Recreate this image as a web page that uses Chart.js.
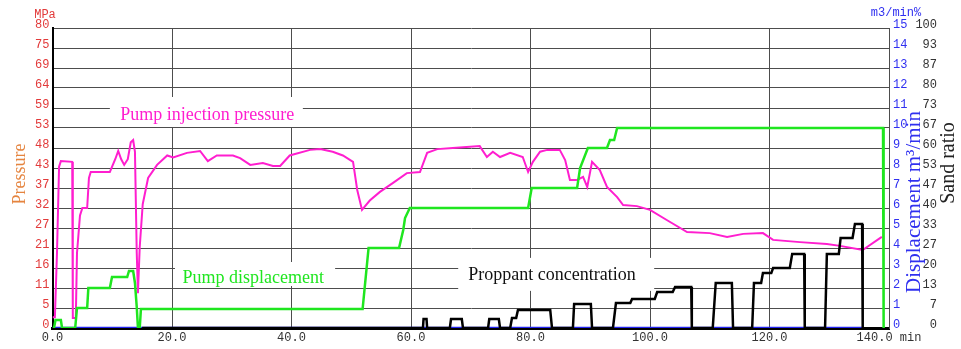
<!DOCTYPE html>
<html>
<head>
<meta charset="utf-8">
<script src="https://cdn.jsdelivr.net/npm/chart.js@4.4.1/dist/chart.umd.min.js"></script>
<style>
  html, body { margin: 0; padding: 0; background: #ffffff; }
  #wrap { width: 961px; height: 349px; }
</style>
</head>
<body>
<div id="wrap"><canvas id="c" width="961" height="349"></canvas></div>
<script>
// Fracturing treatment record: time in minutes.

// Pump injection pressure, MPa
const pressureTime = [0, 0.4, 0.75, 1.1, 1.4, 3.3, 3.4, 3.9, 4.1, 4.6,
  5.0, 5.8, 6.1, 6.4, 9.6, 10.5, 11.0, 11.5, 12.0, 12.6,
  13.1, 13.5, 13.8, 14.1, 14.3, 14.6, 15.1, 16.0, 17.5, 19.2,
  20.2, 22.5, 24.7, 26.0, 27.5, 30.2, 31.4, 33.1, 35.2, 36.9,
  38.1, 39.7, 43.1, 44.8, 46.9, 48.6, 50.3, 51.0, 51.8, 53.1,
  54.8, 57.0, 59.3, 61.5, 62.7, 64.4, 67.0, 71.5, 72.7, 73.7,
  74.9, 76.6, 78.7, 79.6, 80.4, 81.6, 82.8, 84.9, 85.8, 86.6,
  87.8, 88.8, 89.5, 90.3, 91.6, 92.8, 94.5, 95.5, 97.8, 100.0,
  102.8, 106.2, 110.0, 112.9, 115.6, 118.9, 120.6, 125.1, 129.6, 131.8,
  135.6, 138.8];
const pressureMPa = [2.9, 2.9, 20, 43, 44.5, 44.3, 2.7, 2.7, 20, 30,
  32, 32, 40, 41.6, 41.6, 45, 47.2, 45, 43.5, 45,
  49.5, 50.1, 47, 20, 9.3, 21.6, 33, 40, 43.5, 46,
  45.5, 46.7, 47.2, 44.5, 46, 46, 45.3, 43.5, 44, 43.2,
  43.2, 46, 47.5, 47.7, 47, 46, 44.3, 36.8, 31.5, 34,
  36.3, 38.7, 41.3, 41.6, 46.7, 47.7, 48, 48.5, 45.6, 47,
  45.6, 46.7, 45.6, 41.6, 44.3, 47, 47.5, 47.5, 44.8, 39.5,
  39.5, 40.3, 37.6, 44.3, 42.1, 37.6, 34.9, 32.8, 32.5, 31.5,
  28.8, 25.6, 25.3, 24.3, 25.1, 25.3, 23.5, 22.9, 22.4, 21.9,
  20.8, 24.3];

// Pump displacement, m3/min
const rateTime = [0, 0.25, 0.5, 1.4, 1.6, 3.8, 4.1, 5.8, 6.0, 9.6,
  9.96, 12.5, 12.8, 13.5, 13.8, 14.1, 14.3, 14.6, 14.8, 51.9,
  52.9, 58.0, 58.7, 59.0, 59.8, 79.6, 80.2, 87.8, 88.3, 89.6,
  92.8, 93.3, 94.0, 94.5, 139.0, 139.1];
const rateM3 = [0, 0, 0.4, 0.4, 0, 0, 1.0, 1.0, 2.0, 2.0,
  2.55, 2.55, 2.85, 2.85, 2.25, 1.05, 0, 0, 0.95, 0.95,
  4.0, 4.0, 4.9, 5.5, 6.0, 6.0, 7.0, 7.0, 8.0, 9.0,
  9.0, 9.4, 9.4, 10.0, 10.0, 0];

// Proppant concentration, sand ratio %
const sandTime = [15.0, 62.0, 62.1, 62.6, 62.7, 66.5, 66.7, 68.5, 68.7, 72.9,
  73.1, 74.7, 74.9, 76.6, 76.9, 77.6, 77.9, 83.3, 83.6, 87.1,
  87.3, 90.1, 90.3, 93.8, 94.3, 96.7, 97.0, 100.8, 101.2, 103.8,
  104.2, 106.9, 107.0, 110.5, 111.0, 113.7, 113.9, 117.1, 117.4, 118.6,
  118.9, 120.3, 120.6, 123.4, 123.8, 125.8, 125.9, 129.3, 129.6, 131.6,
  131.9, 133.9, 134.3, 135.5, 135.6];
const sandRatio = [0, 0, 3, 3, 0, 0, 3, 3, 0, 0,
  3, 3, 0, 0, 3.3, 3.3, 6, 6, 0, 0,
  8, 8, 0, 0, 8.3, 8.3, 9.7, 9.7, 12, 12,
  13.7, 13.7, 0, 0, 15, 15, 0, 0, 15, 15,
  18.3, 18.3, 20, 20, 24.7, 24.7, 0, 0, 24.7, 24.7,
  30, 30, 34.7, 34.7, 0];

// Base sand-ratio trace along the time axis
const baseTime = [0, 135.6];
const baseValue = [0, 0];

// Axis tick labels (the last time label carries the unit)
const xTickLabels = ['0.0', '20.0', '40.0', '60.0', '80.0', '100.0', '120.0', '140.0 min'];
const pressureTickLabels = ['0', '5', '11', '16', '21', '27', '32', '37', '43', '48', '53', '59', '64', '69', '75', '80'];
const rateTickLabels = ['0', '1', '2', '3', '4', '5', '6', '7', '8', '9', '10', '11', '12', '13', '14', '15'];
const sandTickLabels = ['0', '7', '13', '20', '27', '33', '40', '47', '53', '60', '67', '73', '80', '87', '93', '100'];

const pts = (xs, ys) => xs.map((x, i) => ({ x: x, y: ys[i] }));

const PINK = '#ff1ecf';
const GREEN = '#1fe61f';
const BLUE = '#3030f0';
const RED = '#e23a3a';
const GRID = '#4d4d4d';
const tickFont = { family: '"Liberation Mono", monospace', size: 12 };
const serif = '"Liberation Serif", "Times New Roman", serif';

// Caption panels (white backgrounds over the grid) in minutes / MPa
const captions = [
  { text: 'Pump injection pressure', color: PINK, t0: 9.6, t1: 41.9, p0: 53.6, p1: 61.6, tc: 25.9, pc: 56.8 },
  { text: 'Pump displacement', color: GREEN, t0: 20.5, t1: 47.3, p0: 11.2, p1: 17.6, tc: 33.6, pc: 13.3 },
  { text: 'Proppant concentration', color: '#111111', t0: 67.9, t1: 100.7, p0: 9.9, p1: 18.7, tc: 83.6, pc: 14.1 }
];

const decorations = {
  id: 'decorations',
  beforeDatasetsDraw(chart) {
    const { ctx, scales } = chart;
    const x = scales.x, y = scales.yP;
    ctx.save();
    captions.forEach(c => {
      const l = x.getPixelForValue(c.t0), r = x.getPixelForValue(c.t1);
      const t = y.getPixelForValue(c.p1), b = y.getPixelForValue(c.p0);
      ctx.fillStyle = '#ffffff';
      ctx.fillRect(l, t, r - l, b - t);
      ctx.fillStyle = c.color;
      ctx.font = '18px ' + serif;
      ctx.textAlign = 'center';
      ctx.textBaseline = 'middle';
      ctx.fillText(c.text, x.getPixelForValue(c.tc), y.getPixelForValue(c.pc));
    });
    ctx.restore();
  },
  afterDraw(chart) {
    const { ctx, chartArea } = chart;
    const midY = (chartArea.top + chartArea.bottom) / 2;
    const vText = (txt, cx, cy, color, size) => {
      ctx.save();
      ctx.translate(cx, cy);
      ctx.rotate(-Math.PI / 2);
      ctx.fillStyle = color;
      ctx.font = size + 'px ' + serif;
      ctx.textAlign = 'center';
      ctx.textBaseline = 'middle';
      ctx.fillText(txt, 0, 0);
      ctx.restore();
    };
    vText('Pressure', 20, midY - 4, '#e5843f', 18);
    vText('Displacement m\u00b3/min', 914, midY + 24, BLUE, 21);
    vText('Sand ratio', 949, midY - 15, '#222222', 20);

    ctx.save();
    ctx.font = '12px ' + tickFont.family;
    ctx.textBaseline = 'middle';
    ctx.textAlign = 'center';
    ctx.fillStyle = RED;
    ctx.fillText('MPa', 45, 15);
    ctx.fillStyle = BLUE;
    ctx.fillText('m3/min%', 896, 13);
    ctx.restore();
  }
};

const fixedTicks = (labels, max) => scale => {
  scale.ticks = labels.map((_, i) => ({ value: i * max / (labels.length - 1) }));
};

new Chart(document.getElementById('c'), {
  type: 'line',
  data: {
    datasets: [
      { label: 'Proppant concentration', data: pts(sandTime, sandRatio), yAxisID: 'yS', borderColor: '#000000', borderWidth: 2.5 },
      { label: 'Pump displacement', data: pts(rateTime, rateM3), yAxisID: 'yD', borderColor: GREEN, borderWidth: 2.5 },
      { label: 'Pump injection pressure', data: pts(pressureTime, pressureMPa), yAxisID: 'yP', borderColor: PINK, borderWidth: 2 },
      { label: 'Sand ratio', data: pts(baseTime, baseValue), yAxisID: 'yS', borderColor: '#2424f0', borderWidth: 2.5 }
    ]
  },
  options: {
    responsive: false,
    animation: false,
    events: [],
    elements: { point: { radius: 0 }, line: { tension: 0, fill: false } },
    plugins: { legend: { display: false }, tooltip: { enabled: false } },
    layout: { padding: { top: 28, left: 0, right: 24, bottom: 0 } },
    scales: {
      x: {
        type: 'linear', position: 'bottom', min: 0, max: 140,
        afterBuildTicks: scale => { scale.ticks = xTickLabels.map((_, i) => ({ value: i * 20 })); },
        ticks: { callback: (v, i) => xTickLabels[i], color: '#333333', font: tickFont, padding: 3, maxRotation: 0, autoSkip: false },
        grid: { color: GRID, lineWidth: 1, drawTicks: false },
        border: { color: '#000000', width: 3 },
        afterFit: scale => { scale.height = 21; }
      },
      yP: {
        type: 'linear', position: 'left', min: 0, max: 80,
        afterBuildTicks: fixedTicks(pressureTickLabels, 80),
        ticks: { callback: (v, i) => pressureTickLabels[i], color: RED, font: tickFont, padding: 3, labelOffset: -3, autoSkip: false },
        grid: { color: GRID, lineWidth: 1, drawTicks: false },
        border: { color: '#000000', width: 2 },
        afterFit: scale => { scale.width = 52.5; }
      },
      yD: {
        type: 'linear', position: 'right', min: 0, max: 15,
        afterBuildTicks: fixedTicks(rateTickLabels, 15),
        ticks: { callback: (v, i) => rateTickLabels[i], color: BLUE, font: tickFont, padding: 4, labelOffset: -3, autoSkip: false },
        grid: { display: false, drawTicks: false },
        border: { color: GRID, width: 1 },
        afterFit: scale => { scale.width = 22; }
      },
      yS: {
        type: 'linear', position: 'right', min: 0, max: 100,
        afterBuildTicks: fixedTicks(sandTickLabels, 100),
        ticks: { callback: (v, i) => sandTickLabels[i], color: '#333333', font: tickFont, padding: 4, labelOffset: -3, crossAlign: 'far', autoSkip: false },
        grid: { display: false, drawTicks: false },
        border: { display: false },
        afterFit: scale => { scale.width = 26; }
      }
    }
  },
  plugins: [decorations]
});
</script>
</body>
</html>
